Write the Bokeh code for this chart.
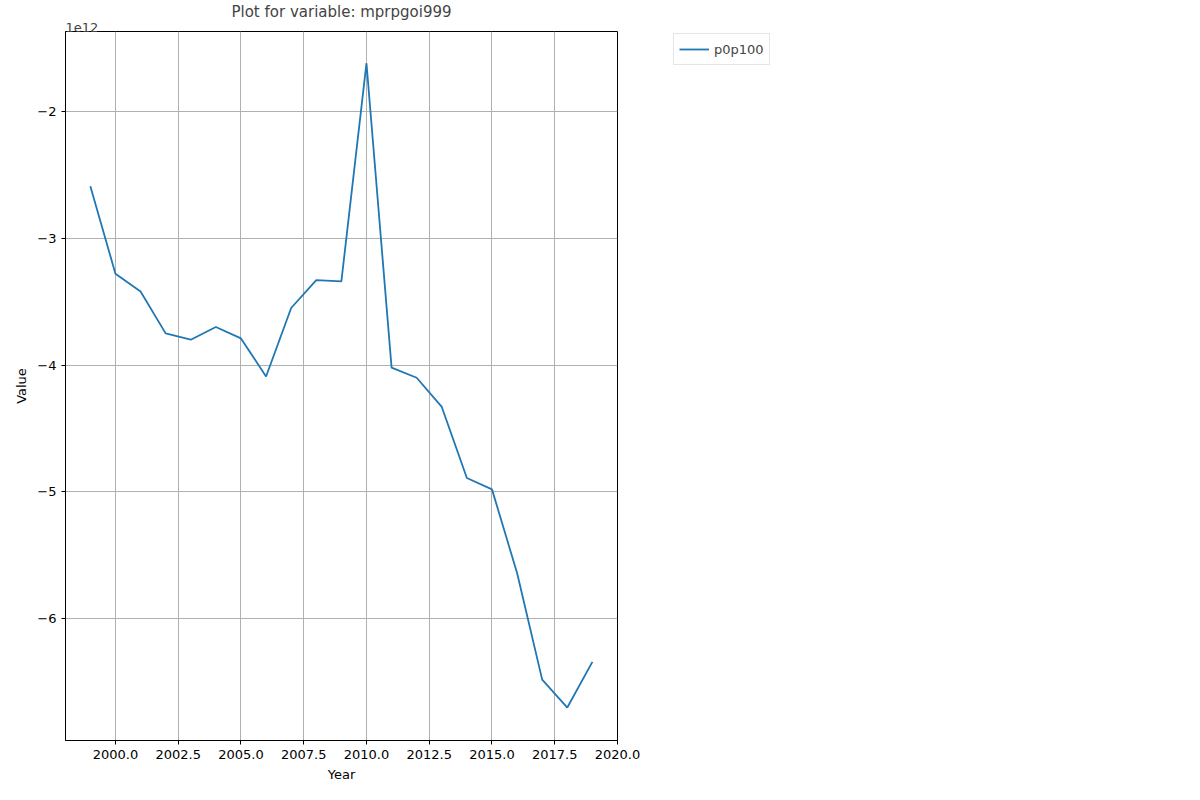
from bokeh.plotting import figure
from bokeh.models import Legend, LegendItem, Title, PrintfTickFormatter, CustomJSTickFormatter, FixedTicker, Range1d
from bokeh.embed import file_html
from bokeh.resources import INLINE

years = list(range(1999, 2020))
# values in units of 1e12
p0p100 = [-2.59, -3.28, -3.42, -3.75, -3.80, -3.70, -3.79, -4.09, -3.55, -3.33, -3.34,
          -1.62, -4.02, -4.10, -4.33, -4.89, -4.98, -5.64, -6.48, -6.70, -6.34]
x_ticks = [2000, 2002.5, 2005, 2007.5, 2010, 2012.5, 2015, 2017.5, 2020]
y_ticks = [-2, -3, -4, -5, -6]

p = figure(width=1184, height=784, output_backend="svg", toolbar_location=None, title=None,
           x_range=Range1d(1998.01, 2020.0), y_range=Range1d(-6.96, -1.37),
           min_border_left=65, min_border_right=157, min_border_top=27, min_border_bottom=42)

# exponent label right above the frame, then the main title
p.add_layout(Title(text="1e12", align="left", text_font="DejaVu Sans", text_font_size="13px",
                   text_font_style="normal", standoff=0, offset=0), "above")
p.add_layout(Title(text="Plot for variable: mprpgoi999", align="center", text_font="DejaVu Sans",
                   text_font_size="15px", text_font_style="normal", standoff=0), "above")

line = p.line(years, p0p100, line_color="#1f77b4", line_width=1.8)

p.xaxis.ticker = FixedTicker(ticks=x_ticks)
p.yaxis.ticker = FixedTicker(ticks=y_ticks)
p.xaxis.formatter = PrintfTickFormatter(format="%.1f")
p.yaxis.formatter = CustomJSTickFormatter(code="return String(Math.round(tick)).replace('-', '\u2212');")
p.xaxis.axis_label = "Year"
p.yaxis.axis_label = "Value"
for ax in (p.xaxis, p.yaxis):
    ax.axis_label_text_font = "DejaVu Sans"
    ax.axis_label_text_font_style = "normal"
    ax.axis_label_text_font_size = "13px"
    ax.major_label_text_font = "DejaVu Sans"
    ax.major_label_text_font_size = "13px"
    ax.major_label_text_color = "black"
    ax.axis_label_text_color = "black"
    ax.minor_tick_line_color = None
    ax.major_tick_out = 4
    ax.major_tick_in = 0
    ax.axis_line_color = "black"
p.xgrid.grid_line_color = "#b0b0b0"
p.ygrid.grid_line_color = "#b0b0b0"
p.outline_line_color = "black"
p.outline_line_alpha = 1

legend = Legend(items=[LegendItem(label="p0p100", renderers=[line])], location=(56, 675), margin=0,
                label_text_font="DejaVu Sans", label_text_font_size="13px",
                border_line_color="#cccccc", padding=5, spacing=2, glyph_width=30)
p.add_layout(legend, "right")

open("out.html", "w").write(file_html(p, INLINE))
